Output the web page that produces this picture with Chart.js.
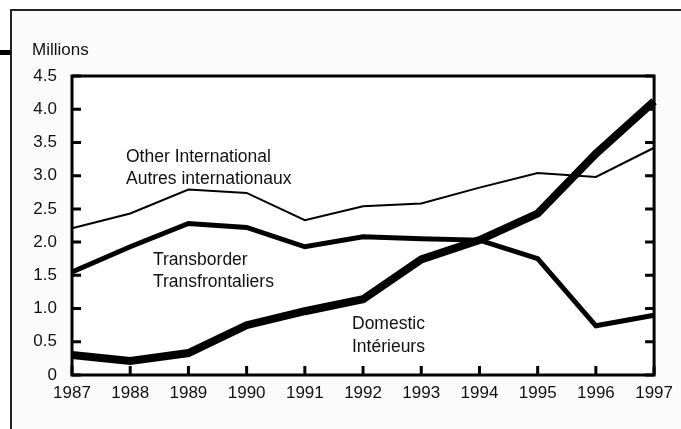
<!DOCTYPE html>
<html>
<head>
<meta charset="utf-8">
<script src="https://cdn.jsdelivr.net/npm/chart.js@4"></script>
<style>
  html, body { margin: 0; padding: 0; background: #fff; }
  #wrap { position: relative; width: 681px; height: 429px; }
</style>
</head>
<body>
<div id="wrap"><canvas id="chart" width="681" height="429"></canvas></div>
<script>
// Air passengers, millions
const years = ['1987', '1988', '1989', '1990', '1991', '1992', '1993', '1994', '1995', '1996', '1997'];
const otherIntl = [2.21, 2.43, 2.79, 2.74, 2.33, 2.54, 2.58, 2.82, 3.04, 2.98, 3.42];
const transborder = [1.55, 1.93, 2.28, 2.22, 1.93, 2.08, 2.05, 2.03, 1.75, 0.74, 0.90];
const domestic = [0.30, 0.21, 0.33, 0.75, 0.96, 1.14, 1.74, 2.03, 2.43, 3.33, 4.12];
const yTicks = [0, 0.5, 1.0, 1.5, 2.0, 2.5, 3.0, 3.5, 4.0, 4.5];

const FONT = 'Liberation Sans, Arial, sans-serif';

// frame, plot box, inward ticks and the series labels
const framePlugin = {
  id: 'frame',
  beforeDraw(chart) {
    const ctx = chart.ctx;
    const a = chart.chartArea;
    ctx.save();
    ctx.fillStyle = '#ffffff';
    ctx.fillRect(0, 0, chart.width, chart.height);
    ctx.fillStyle = '#fbfbfb';
    ctx.fillRect(11, 10, chart.width - 11, chart.height - 10);
    ctx.fillStyle = '#ffffff';
    ctx.fillRect(a.left, a.top, a.right - a.left, a.bottom - a.top);
    ctx.restore();
  },
  afterDraw(chart) {
    const ctx = chart.ctx;
    const a = chart.chartArea;
    const x = chart.scales.x;
    const y = chart.scales.y;
    ctx.save();

    // outer frame
    ctx.strokeStyle = '#222';
    ctx.lineWidth = 2;
    ctx.beginPath();
    ctx.moveTo(11, chart.height);
    ctx.lineTo(11, 10);
    ctx.lineTo(chart.width, 10);
    ctx.stroke();
    ctx.fillStyle = '#000';
    ctx.fillRect(0, 50, 11, 5);

    // plot box
    ctx.strokeStyle = '#000';
    ctx.lineWidth = 3;
    ctx.strokeRect(a.left, a.top, a.right - a.left, a.bottom - a.top);

    // inward ticks
    ctx.beginPath();
    yTicks.forEach(v => {
      const py = y.getPixelForValue(v);
      ctx.moveTo(a.left, py);
      ctx.lineTo(a.left + 9, py);
      ctx.moveTo(a.right, py);
      ctx.lineTo(a.right - 9, py);
    });
    years.forEach((yr, i) => {
      const px = x.getPixelForValue(i);
      ctx.moveTo(px, a.bottom);
      ctx.lineTo(px, a.bottom - 9);
    });
    ctx.stroke();

    // texts
    ctx.fillStyle = '#111';
    ctx.textAlign = 'left';
    ctx.textBaseline = 'alphabetic';
    ctx.font = '17px ' + FONT;
    ctx.fillText('Millions', 32, 55);
    ctx.font = '17.5px ' + FONT;
    ctx.fillText('Other International', 126, 162);
    ctx.fillText('Autres internationaux', 126, 184);
    ctx.fillText('Transborder', 153, 265);
    ctx.fillText('Transfrontaliers', 153, 287);
    ctx.fillText('Domestic', 352, 329);
    ctx.fillText('Intérieurs', 352, 352);
    ctx.restore();
  }
};

new Chart(document.getElementById('chart'), {
  type: 'line',
  data: {
    labels: years,
    datasets: [
      { label: 'Other International', data: otherIntl, borderColor: '#000', borderWidth: 2 },
      { label: 'Transborder', data: transborder, borderColor: '#000', borderWidth: 5 },
      { label: 'Domestic', data: domestic, borderColor: '#000', borderWidth: 8 }
    ]
  },
  options: {
    responsive: false,
    animation: false,
    events: [],
    elements: {
      line: { tension: 0, fill: false },
      point: { radius: 0 }
    },
    layout: { padding: { top: 76, right: 24, left: 0, bottom: 0 } },
    plugins: {
      legend: { display: false },
      tooltip: { enabled: false }
    },
    scales: {
      x: {
        offset: false,
        grid: { display: false, drawTicks: false },
        border: { display: false },
        ticks: {
          color: '#111',
          font: { family: FONT, size: 17 },
          padding: 8,
          maxRotation: 0,
          autoSkip: false
        },
        afterFit(s) { s.height = 54; }
      },
      y: {
        min: 0,
        max: 4.5,
        grid: { display: false, drawTicks: false },
        border: { display: false },
        afterBuildTicks(s) { s.ticks = yTicks.map(v => ({ value: v })); },
        ticks: {
          color: '#111',
          font: { family: FONT, size: 17 },
          padding: 15,
          callback: v => (v === 0 ? '0' : v.toFixed(1))
        },
        afterFit(s) { s.width = 72; }
      }
    }
  },
  plugins: [framePlugin]
});
</script>
</body>
</html>
